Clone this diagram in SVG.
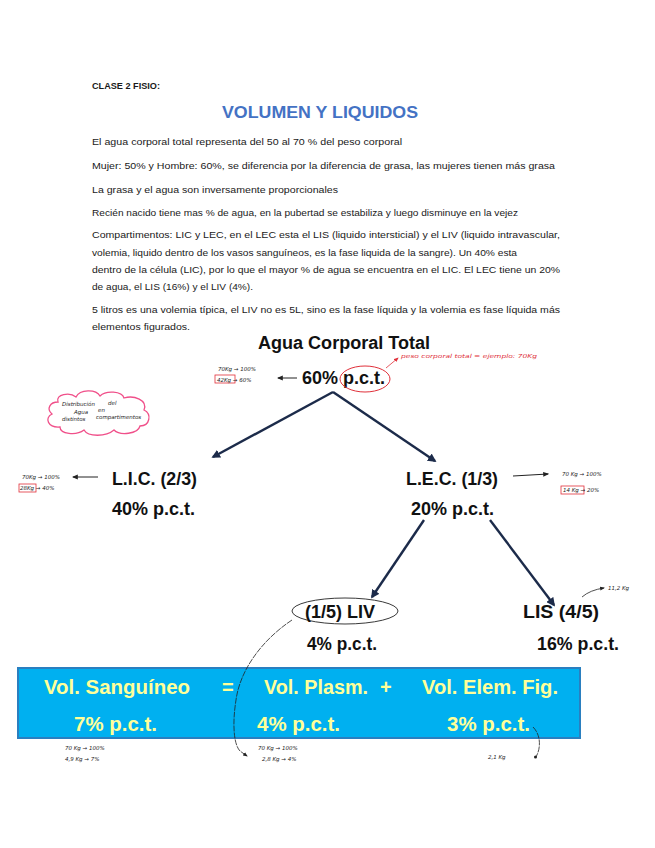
<svg xmlns="http://www.w3.org/2000/svg" width="655" height="848" viewBox="0 0 655 848">
<style>
.body{font-family:"Liberation Sans",Arial,sans-serif;font-size:9.3px;fill:#1a1a1a}
.h{font-family:"Liberation Sans",Arial,sans-serif;font-weight:bold;font-size:18px;fill:#111}
.bx{font-family:"Liberation Sans",Arial,sans-serif;font-weight:bold;font-size:20px;fill:#FFFF99}
.hw{font-family:"DejaVu Sans",sans-serif;font-size:5.5px;fill:#222;font-style:italic}
.hwr{font-family:"DejaVu Sans",sans-serif;font-size:5.5px;fill:#e0303a;font-style:italic}
.conn{stroke:#1c2b4a;stroke-width:2.4;fill:none;marker-end:url(#ah)}
.thin{stroke:#222;stroke-width:0.8;fill:none}
</style>
<defs>
<marker id="ah" viewBox="0 0 10 10" refX="8" refY="5" markerWidth="3.6" markerHeight="3.6" orient="auto"><path d="M0,0 L10,5 L0,10 z" fill="#1c2b4a"/></marker>
<marker id="sa" viewBox="0 0 10 10" refX="8" refY="5" markerWidth="6" markerHeight="6" orient="auto"><path d="M0,1 L10,5 L0,9 z" fill="#222"/></marker>
<marker id="ra" viewBox="0 0 10 10" refX="8" refY="5" markerWidth="6" markerHeight="6" orient="auto"><path d="M0,1 L10,5 L0,9 z" fill="#e0303a"/></marker>
</defs>
<rect width="655" height="848" fill="#fff"/>

<g id="header">
<text x="92" y="89" class="body" font-weight="bold" font-size="9" textLength="68" lengthAdjust="spacingAndGlyphs">CLASE 2 FISIO:</text>
<text x="222" y="118" font-family="'Liberation Sans',Arial,sans-serif" font-weight="bold" font-size="17" fill="#4472C4" textLength="196" lengthAdjust="spacingAndGlyphs">VOLUMEN Y LIQUIDOS</text>
<text x="92" y="145" class="body" textLength="310" lengthAdjust="spacingAndGlyphs">El agua corporal total representa del 50 al 70 % del peso corporal</text>
<text x="92" y="169" class="body" textLength="463" lengthAdjust="spacingAndGlyphs">Mujer: 50% y Hombre: 60%, se diferencia por la diferencia de grasa, las mujeres tienen más grasa</text>
<text x="92" y="193" class="body" textLength="246" lengthAdjust="spacingAndGlyphs">La grasa y el agua son inversamente proporcionales</text>
<text x="92" y="216" class="body" textLength="426" lengthAdjust="spacingAndGlyphs">Recién nacido tiene mas % de agua, en la pubertad se estabiliza y luego disminuye en la vejez</text>
<text x="92" y="238" class="body" textLength="468" lengthAdjust="spacingAndGlyphs">Compartimentos: LIC y LEC, en el LEC esta el LIS (liquido intersticial) y el LIV (liquido intravascular,</text>
<text x="92" y="256" class="body" textLength="425" lengthAdjust="spacingAndGlyphs">volemia, liquido dentro de los vasos sanguíneos, es la fase liquida de la sangre). Un 40% esta</text>
<text x="92" y="273" class="body" textLength="468" lengthAdjust="spacingAndGlyphs">dentro de la célula (LIC), por lo que el mayor % de agua se encuentra en el LIC. El LEC tiene un 20%</text>
<text x="92" y="290" class="body" textLength="161" lengthAdjust="spacingAndGlyphs">de agua, el LIS (16%) y el LIV (4%).</text>
<text x="92" y="313" class="body" textLength="468" lengthAdjust="spacingAndGlyphs">5 litros es una volemia típica, el LIV no es 5L, sino es la fase líquida y la volemia es fase líquida más</text>
<text x="92" y="330" class="body" textLength="98" lengthAdjust="spacingAndGlyphs">elementos figurados.</text>
</g>

<g id="connectors">
<path class="conn" d="M333,392 L213,457"/>
<path class="conn" d="M333,392 L435,461"/>
<path class="conn" d="M424,520 L372,597"/>
<path class="conn" d="M490,520 L554,605"/>
</g>

<g id="act">
<text x="258" y="349" class="h" textLength="172" lengthAdjust="spacingAndGlyphs">Agua Corporal Total</text>
<text x="302" y="384" class="h" textLength="83" lengthAdjust="spacingAndGlyphs">60% p.c.t.</text>
<ellipse cx="365" cy="379" rx="25" ry="13" fill="none" stroke="#e0303a" stroke-width="1"/>
<path d="M386,368 L398,358" stroke="#e0303a" stroke-width="0.8" fill="none" marker-end="url(#ra)"/>
<text x="401" y="358" class="hwr" textLength="136" lengthAdjust="spacingAndGlyphs">peso corporal total = ejemplo: 70Kg</text>
<path d="M297,378 L278,378" stroke="#222" stroke-width="1" fill="none" marker-end="url(#sa)"/>
<text x="218" y="371" class="hw">70Kg → 100%</text>
<rect x="215" y="375" width="20" height="8" fill="none" stroke="#e0303a" stroke-width="0.8"/>
<text x="217" y="381.5" class="hw">42Kg → 60%</text>
</g>

<g id="cloud">
<path d="M58,402 C55,394 70,392 76,397 C80,389 96,389 100,396 C106,390 122,391 124,398 C134,395 148,400 144,410 C152,414 150,426 140,426 C138,434 120,436 114,430 C106,437 88,437 84,430 C76,436 60,434 60,427 C48,428 44,418 52,414 C46,409 50,402 58,402 Z" fill="none" stroke="#f0508a" stroke-width="1.3"/>
<text x="62" y="406" class="hw" font-size="4.5">Distribución</text><text x="108" y="405" class="hw" font-size="4.5">del</text>
<text x="74" y="414" class="hw" font-size="4.5">Agua</text><text x="98" y="412" class="hw" font-size="4.5">en</text>
<text x="62" y="421" class="hw" font-size="4.5">distintos</text><text x="96" y="419" class="hw" font-size="4.5">compartimentos</text>
</g>

<g id="lic">
<text x="112" y="485" class="h" textLength="85" lengthAdjust="spacingAndGlyphs">L.I.C. (2/3)</text>
<text x="112" y="515" class="h" textLength="83" lengthAdjust="spacingAndGlyphs">40% p.c.t.</text>
<path d="M98,477 L73,477" stroke="#222" stroke-width="1" fill="none" marker-end="url(#sa)"/>
<text x="22" y="479" class="hw">70Kg → 100%</text>
<rect x="19" y="484" width="17" height="8" fill="none" stroke="#e0303a" stroke-width="0.8"/>
<text x="20" y="490" class="hw">28Kg → 40%</text>
</g>

<g id="lec">
<text x="406" y="485" class="h" textLength="92" lengthAdjust="spacingAndGlyphs">L.E.C. (1/3)</text>
<text x="411" y="515" class="h" textLength="83" lengthAdjust="spacingAndGlyphs">20% p.c.t.</text>
<path d="M513,476 L548,474" stroke="#222" stroke-width="1" fill="none" marker-end="url(#sa)"/>
<text x="562" y="476" class="hw">70 Kg → 100%</text>
<rect x="561" y="486" width="23" height="8" fill="none" stroke="#e0303a" stroke-width="0.8"/>
<text x="563" y="492" class="hw">14 Kg → 20%</text>
</g>

<g id="liv">
<ellipse cx="345" cy="611" rx="53" ry="13" fill="none" stroke="#222" stroke-width="0.9"/>
<text x="305" y="618" class="h" textLength="70" lengthAdjust="spacingAndGlyphs">(1/5) LIV</text>
<text x="307" y="650" class="h" textLength="70" lengthAdjust="spacingAndGlyphs">4% p.c.t.</text>
</g>

<g id="lis">
<text x="523" y="618" class="h" textLength="76" lengthAdjust="spacingAndGlyphs">LIS (4/5)</text>
<text x="537" y="650" class="h" textLength="82" lengthAdjust="spacingAndGlyphs">16% p.c.t.</text>
<path d="M582,597 Q590,590 604,588" stroke="#222" stroke-width="0.8" fill="none" marker-end="url(#sa)"/>
<text x="608" y="590" class="hw">11,2 Kg</text>
</g>

<g id="volemia">
<rect x="18" y="668" width="562" height="70" fill="#00B0F0" stroke="#2a7fc0" stroke-width="2"/>
<text x="44" y="694" class="bx" textLength="146" lengthAdjust="spacingAndGlyphs">Vol. Sanguíneo</text>
<text x="222" y="694" class="bx">=</text>
<text x="264" y="694" class="bx" textLength="104" lengthAdjust="spacingAndGlyphs">Vol. Plasm.</text>
<text x="380" y="694" class="bx">+</text>
<text x="422" y="694" class="bx" textLength="136" lengthAdjust="spacingAndGlyphs">Vol. Elem. Fig.</text>
<text x="74" y="731" class="bx" textLength="83" lengthAdjust="spacingAndGlyphs">7% p.c.t.</text>
<text x="257" y="731" class="bx" textLength="83" lengthAdjust="spacingAndGlyphs">4% p.c.t.</text>
<text x="447" y="731" class="bx" textLength="83" lengthAdjust="spacingAndGlyphs">3% p.c.t.</text>
</g>

<g id="notes">
<path class="thin" stroke-dasharray="6,1" d="M292,620 C262,640 240,670 236,700 C232,725 234,745 240,751 L247,756" marker-end="url(#sa)"/>
<path class="thin" stroke-dasharray="6,1" d="M533,727 C541,735 541,748 536,757"/>
<circle cx="535.5" cy="757" r="1.5" fill="#222"/>
<text x="65" y="750" class="hw">70 Kg → 100%</text>
<text x="65" y="761" class="hw">4,9 Kg → 7%</text>
<text x="258" y="750" class="hw">70 Kg → 100%</text>
<text x="262" y="761" class="hw">2,8 Kg → 4%</text>
<text x="488" y="759" class="hw">2,1 Kg</text>
</g>
</svg>
